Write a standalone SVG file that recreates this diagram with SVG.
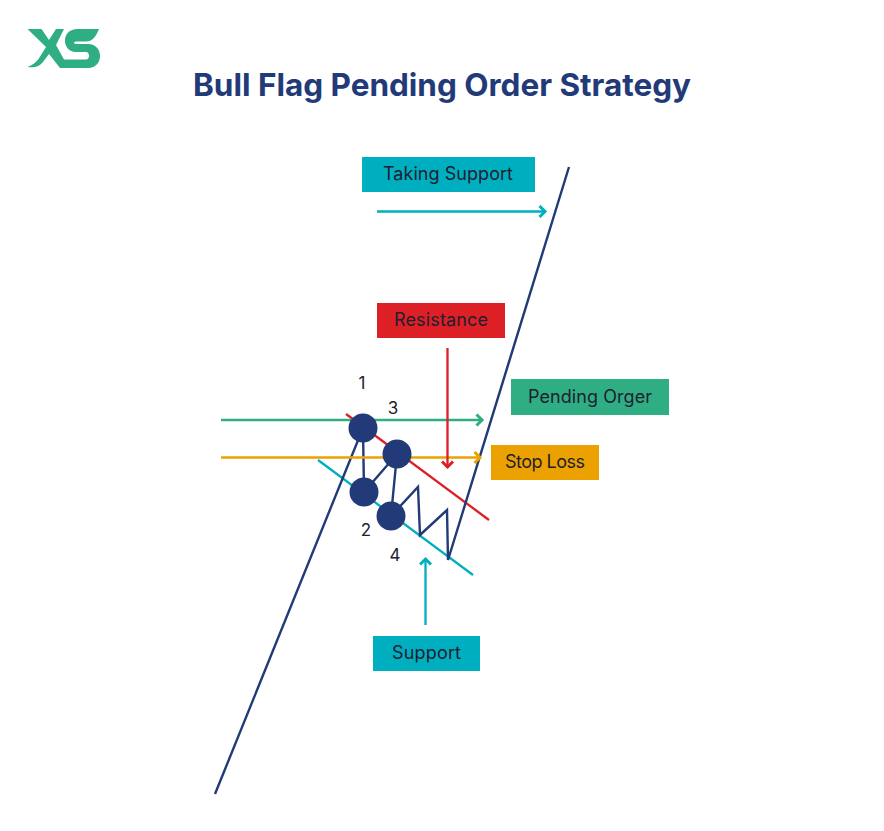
<svg xmlns="http://www.w3.org/2000/svg" width="884" height="831" viewBox="0 0 884 831">
<style>
.t{font-family:"Inter","Liberation Sans",sans-serif;font-size:18px;fill:#1f2030;text-anchor:middle}
.n{font-family:"Inter","Liberation Sans",sans-serif;font-size:17px;fill:#1f2030;text-anchor:middle}
.title{font-family:"Inter","Liberation Sans",sans-serif;font-size:31.5px;font-weight:700;fill:#223a78;text-anchor:middle}
.l{fill:none;stroke-width:2.3}
.p{fill:none;stroke:#223a78;stroke-width:2.4}
.c{fill:#223a78}
</style>
<defs>
<marker id="ag" markerUnits="userSpaceOnUse" markerWidth="12" markerHeight="14" refX="10" refY="7" orient="auto"><path d="M3.5,1.5 L9,7 L3.5,12.5" fill="none" stroke="#2fae84" stroke-width="3"/></marker>
<marker id="ao" markerUnits="userSpaceOnUse" markerWidth="12" markerHeight="14" refX="10" refY="7" orient="auto"><path d="M3.5,1.5 L9,7 L3.5,12.5" fill="none" stroke="#eba200" stroke-width="3"/></marker>
<marker id="ar" markerUnits="userSpaceOnUse" markerWidth="12" markerHeight="14" refX="10" refY="7" orient="auto"><path d="M3.5,1.5 L9,7 L3.5,12.5" fill="none" stroke="#dd1f26" stroke-width="3"/></marker>
<marker id="ac" markerUnits="userSpaceOnUse" markerWidth="12" markerHeight="14" refX="10" refY="7" orient="auto"><path d="M3.5,1.5 L9,7 L3.5,12.5" fill="none" stroke="#00afbf" stroke-width="3"/></marker>
</defs>
<rect width="884" height="831" fill="#fff"/>
<g id="logo"><path fill="#2fae84" d="M27.5,29 H41.5 L49,40 L56,29 H64 L56,45 L64,59.5 H86 C90,59.5 90,52 86,52 H76 C62,52 60,29 78,29 H99 C96,37 92,41.5 86,41.5 H77 C73,41.5 73,44 77,44 H88 C104,44 104,68 88,68 H60 L49,54 L43,62 C39,67 33,68 27.5,67 C33,65 36,62 38.5,59 L46,47 Z"/></g>
<text id="title" class="title" x="442" y="96" textLength="498">Bull Flag Pending Order Strategy</text>
<g id="connectors">
<path class="l" stroke="#dd1f26" d="M346,414 L489,520"/>
<path class="l" stroke="#00afbf" d="M318,460 L473,575"/>
<path class="p" d="M215,794 L363,428 L364,492 L397,454 L391,516 L418,487 L420,535 L447,510 L448,560 L569,167"/>
<path class="l" stroke="#2fae84" marker-end="url(#ag)" d="M221,420 H483"/>
<path class="l" stroke="#eba200" marker-end="url(#ao)" d="M221,457.5 H481"/>
<path class="l" stroke="#dd1f26" marker-end="url(#ar)" d="M447.5,348 V468"/>
<path class="l" stroke="#00afbf" marker-end="url(#ac)" d="M425.5,625 V558"/>
<path class="l" stroke="#00afbf" marker-end="url(#ac)" d="M377,211.5 H546"/>
</g>
<g id="point-1"><circle class="c" cx="363" cy="428" r="14.5"/><text class="n" x="362" y="389">1</text></g>
<g id="point-3"><circle class="c" cx="397" cy="454" r="14.5"/><text class="n" x="393" y="414">3</text></g>
<g id="point-2"><circle class="c" cx="364" cy="492" r="14.5"/><text class="n" x="366" y="536">2</text></g>
<g id="point-4"><circle class="c" cx="391" cy="516" r="14.5"/><text class="n" x="395" y="561">4</text></g>
<g id="taking-support"><rect x="362" y="157" width="173" height="35" fill="#00afbf"/><text class="t" x="448" y="180" textLength="130">Taking Support</text></g>
<g id="resistance"><rect x="377" y="303" width="128" height="35" fill="#dd1f26"/><text class="t" x="441" y="326" textLength="94">Resistance</text></g>
<g id="pending-orger"><rect x="511" y="379" width="158" height="36" fill="#2fae84"/><text class="t" x="590" y="403" textLength="124">Pending Orger</text></g>
<g id="stop-loss"><rect x="491" y="445" width="108" height="35" fill="#eba200"/><text class="t" x="545" y="468" textLength="80">Stop Loss</text></g>
<g id="support"><rect x="373" y="636" width="107" height="35" fill="#00afbf"/><text class="t" x="426.5" y="659" textLength="69">Support</text></g>
</svg>
